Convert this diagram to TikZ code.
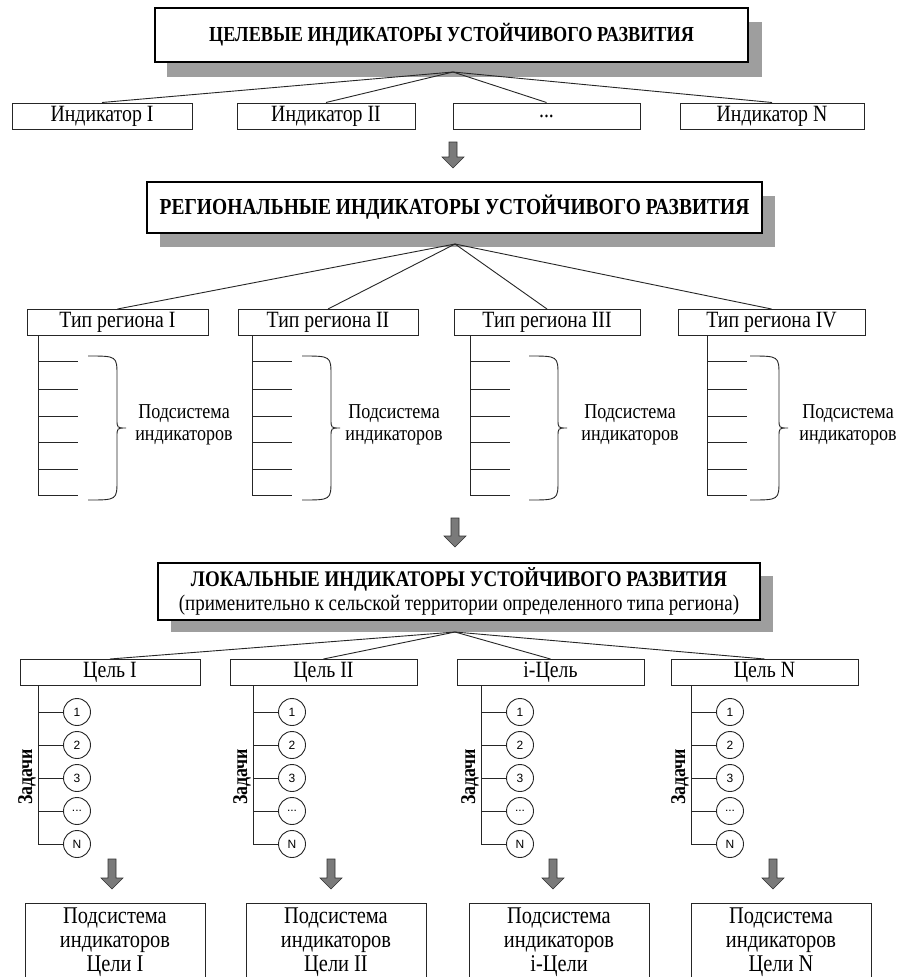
\documentclass[tikz,border=0pt]{standalone}
\usepackage{fontspec}
\setmainfont{Liberation Serif}[FakeStretch=0.85]
\newfontfamily\sansf{Liberation Sans}
\usetikzlibrary{backgrounds}
\newcommand\tdots{...}
\tikzset{
 ibox/.style={draw=black!85, line width=1pt, minimum height=26pt, inner sep=0pt, fill=white, font=\fontsize{23.3}{26}\selectfont},
 tbox/.style={draw=black, line width=2.8pt, inner sep=0pt, fill=white, align=center, font=\fontsize{22.9}{24}\selectfont\bfseries},
 bbox/.style={draw=black!85, line width=1pt, inner sep=0pt, fill=white, anchor=north, minimum width=180pt, minimum height=90pt},
 btxt/.style={align=center, font=\fontsize{24}{24}\selectfont},
 link/.style={line width=0.9pt, black!85},
 shadowfill/.style={fill=black!38},
 bigarrow/.style={fill=black!52, draw=black!80, line width=0.6pt},
 circ/.style={circle, draw=black!85, line width=0.9pt, minimum size=27pt, inner sep=0pt, fill=white, font=\sansf\fontsize{12}{14}\selectfont},
 subtxt/.style={align=center, font=\fontsize{21.2}{22}\selectfont},
 zad/.style={rotate=90, font=\fontsize{21}{22}\selectfont\bfseries},
}
\newcommand\fatarrow[3]{\filldraw[bigarrow] (#1-4,#2) -- (#1+4,#2) -- (#1+4,#3-11) -- (#1+11,#3-11) -- (#1,#3) -- (#1-11,#3-11) -- (#1-4,#3-11) -- cycle;}
\newcommand\curlybrace[6]{% x0 xs xt ytop ymid ybot
\draw[link] (#1,#4) .. controls (#2,#4) and (#2,#4) .. (#2,#4+20) -- (#2,#5-9) .. controls (#2,#5) .. (#3,#5) .. controls (#2,#5) .. (#2,#5+9) -- (#2,#6-20) .. controls (#2,#6) and (#2,#6) .. (#1,#6);}
\begin{document}
\begin{tikzpicture}[x=1pt,y=-1pt]
\useasboundingbox (0,0) rectangle (900,977);
\clip (0,0) rectangle (900,977);
\fill[white] (0,0) rectangle (900,977);

% ---------- level 1
\fill[shadowfill] (167,22) rectangle (762,77);
\node[tbox, minimum width=593pt, minimum height=54pt, font=\fontsize{21.4}{24}\selectfont\bfseries] (top) at (451.5,35) {ЦЕЛЕВЫЕ ИНДИКАТОРЫ УСТОЙЧИВОГО РАЗВИТИЯ};
\coordinate (c1) at (453,72);
\node[ibox, minimum width=180pt] (i1) at (102,116) {Индикатор I};
\node[ibox, minimum width=178pt] (i2) at (326,116) {Индикатор II};
\node[ibox, minimum width=187pt] (i3) at (546.5,116) {\tdots};
\node[ibox, minimum width=184pt] (i4) at (772,116) {Индикатор N};
\foreach \n in {i1,i2,i3,i4} \draw[link] (c1) -- (\n.north);

\fatarrow{453}{142}{168}

% ---------- level 2
\fill[shadowfill] (160,196) rectangle (775,247);
\node[tbox, minimum width=615pt, minimum height=51pt] (reg) at (454.5,207.5) {РЕГИОНАЛЬНЫЕ ИНДИКАТОРЫ УСТОЙЧИВОГО РАЗВИТИЯ};
\coordinate (c2) at (455,244);
\node[ibox, minimum width=181pt] (t1) at (117.5,322.5) {Тип региона I};
\node[ibox, minimum width=180pt] (t2) at (328,322.5) {Тип региона II};
\node[ibox, minimum width=186pt] (t3) at (547,322.5) {Тип региона III};
\node[ibox, minimum width=187pt] (t4) at (771.5,322.5) {Тип региона IV};
\foreach \n in {t1,t2,t3,t4} \draw[link] (c2) -- (\n.north);

\foreach \n/\xv/\bx/\tx in {t1/38/88/184, t2/252/302/394, t3/470/529/630, t4/707/750/848}{
  \draw[link] (\xv,335.5) -- (\xv,495) -- (\xv+40,495);
  \foreach \yy in {361,389,416,442,469} \draw[link] (\xv,\yy) -- (\xv+40,\yy);
  \curlybrace{\bx}{\bx+29}{\bx+38}{356}{428}{500}
  \node[subtxt] (s\n) at (\tx,425) {Подсистема\\индикаторов};
}

\fatarrow{455}{518}{547}

% ---------- level 3
\fill[shadowfill] (171,576) rectangle (773,632);
\node[tbox, minimum width=602pt, minimum height=57pt] (loc) at (459,591.5) {\fontsize{22.3}{24}\selectfont ЛОКАЛЬНЫЕ ИНДИКАТОРЫ УСТОЙЧИВОГО РАЗВИТИЯ\\[0pt]\fontsize{22.3}{24}\mdseries\selectfont(применительно к сельской территории определенного типа региона)};
\coordinate (c3) at (455,632);
\node[ibox, minimum width=180pt] (g1) at (110,672.5) {Цель I};
\node[ibox, minimum width=187pt] (g2) at (323.5,672.5) {Цель II};
\node[ibox, minimum width=187pt] (g3) at (550.5,672.5) {i-Цель};
\node[ibox, minimum width=187pt] (g4) at (764.5,672.5) {Цель N};
\foreach \n in {g1,g2,g3,g4} \draw[link] (c3) -- (\n.north);

\foreach \n/\xv in {g1/38, g2/253, g3/481, g4/691}{
  \draw[link] (\xv,685.5) -- (\xv,844);
  \foreach \k/\yy/\lab in {1/712/1, 2/745/2, 3/778/3, 4/811/\tdots, 5/844/N}{
    \node[circ] (\n c\k) at (\xv+39,\yy) {\lab};
    \draw[link] (\xv,\yy) -- (\n c\k.west);
  }
  \node[zad] (\n z) at (\xv-11,777) {Задачи};
}

% ---------- level 4
\foreach \x in {112,331,553,773} \fatarrow{\x}{859}{889}
\node[bbox] (b1) at (115,903) {};
\node[bbox] (b2) at (336,903) {};
\node[bbox] (b3) at (559,903) {};
\node[bbox] (b4) at (781,903) {};
\node[btxt, anchor=north] (bt1) at (115,904) {Подсистема\\индикаторов\\Цели I};
\node[btxt, anchor=north] (bt2) at (336,904) {Подсистема\\индикаторов\\Цели II};
\node[btxt, anchor=north] (bt3) at (559,904) {Подсистема\\индикаторов\\i-Цели};
\node[btxt, anchor=north] (bt4) at (781,904) {Подсистема\\индикаторов\\Цели N};
\end{tikzpicture}
\end{document}
